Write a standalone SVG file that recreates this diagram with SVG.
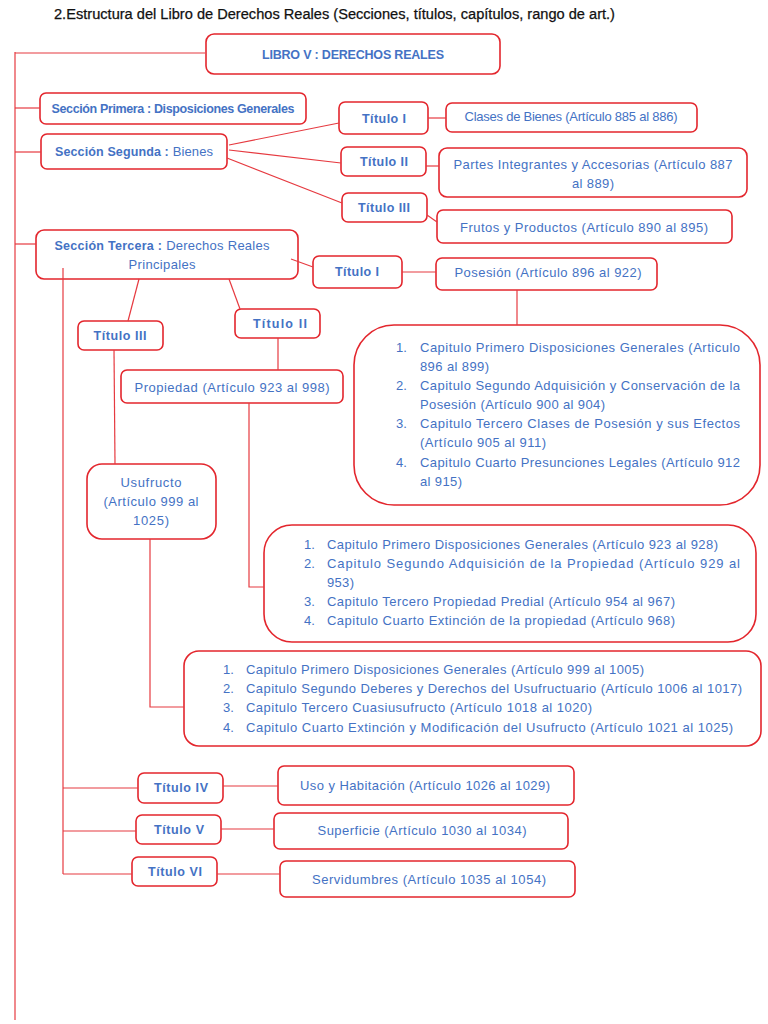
<svg xmlns="http://www.w3.org/2000/svg" width="768" height="1024" viewBox="0 0 768 1024">
<style>
.box{fill:#fff;stroke:#e3262d;stroke-width:1.6}
.c{fill:none;stroke:#e63a40;stroke-width:1.2}
.t{font-family:"Liberation Sans",Arial,sans-serif;font-size:13px;fill:#4472c4}
.m{text-anchor:middle}
.b{font-weight:bold;font-size:12.5px}
.h{font-family:"Liberation Sans",Arial,sans-serif;font-size:14px;fill:#111;stroke:#111;stroke-width:0.25}
</style>
<rect width="768" height="1024" fill="#fff"/>
<text class="h" x="54" y="19" textLength="561" lengthAdjust="spacingAndGlyphs">2.Estructura del Libro de Derechos Reales (Secciones, títulos, capítulos, rango de art.)</text>

<g id="libro"><rect class="box" x="206" y="34" width="294" height="40" rx="8"/><text class="t m b" x="353" y="59" textLength="182">LIBRO V : DERECHOS REALES</text></g>
<g id="seccion1"><rect class="box" x="40" y="93" width="266" height="31" rx="6"/><text class="t m b" x="173" y="113" textLength="243">Sección Primera : Disposiciones Generales</text></g>
<g id="seccion2"><rect class="box" x="41" y="134" width="186" height="35" rx="6"/><text class="t m" x="134" y="156" textLength="158"><tspan class="b">Sección Segunda :</tspan> Bienes</text></g>
<g id="titulo1-bienes"><rect class="box" x="339" y="102" width="89" height="32" rx="6"/><text class="t m b" x="384" y="123" textLength="44">Título I</text></g>
<g id="clases"><rect class="box" x="446" y="103" width="251" height="29" rx="6"/><text class="t m" x="571" y="121" textLength="213">Clases de Bienes (Artículo 885 al 886)</text></g>
<g id="titulo2-bienes"><rect class="box" x="341" y="147" width="85" height="29" rx="6"/><text class="t m b" x="384" y="166" textLength="48">Título II</text></g>
<g id="partes"><rect class="box" x="439" y="148" width="308" height="49" rx="8"/><text class="t m" x="593" y="169" textLength="279">Partes Integrantes y Accesorias (Artículo 887</text><text class="t m" x="593" y="188" textLength="42">al 889)</text></g>
<g id="titulo3-bienes"><rect class="box" x="342" y="193" width="85" height="29" rx="6"/><text class="t m b" x="384" y="212" textLength="52">Título III</text></g>
<g id="frutos"><rect class="box" x="437" y="210" width="295" height="33" rx="6"/><text class="t m" x="584" y="232" textLength="248">Frutos y Productos (Artículo 890 al 895)</text></g>
<g id="seccion3"><rect class="box" x="36" y="230" width="262" height="49" rx="8"/><text class="t m" x="162" y="250" textLength="215"><tspan class="b">Sección Tercera :</tspan> Derechos Reales</text><text class="t m" x="162" y="269" textLength="67">Principales</text></g>
<g id="titulo1-s3"><rect class="box" x="313" y="256" width="89" height="32" rx="6"/><text class="t m b" x="357" y="276" textLength="44">Título I</text></g>
<g id="posesion"><rect class="box" x="436" y="258" width="221" height="32" rx="6"/><text class="t m" x="548" y="277" textLength="187">Posesión (Artículo 896 al 922)</text></g>
<g id="posesion-capitulos"><rect class="box" x="354" y="325" width="406" height="180" rx="40"/>
<text class="t" x="396" y="352">1.</text><text class="t" x="420" y="352" textLength="320">Capitulo Primero Disposiciones Generales (Articulo</text>
<text class="t" x="420" y="371" textLength="69">896 al 899)</text>
<text class="t" x="396" y="390">2.</text><text class="t" x="420" y="390" textLength="320">Capitulo Segundo Adquisición y Conservación de la</text>
<text class="t" x="420" y="409" textLength="185">Posesión (Artículo 900 al 904)</text>
<text class="t" x="396" y="428">3.</text><text class="t" x="420" y="428" textLength="320">Capitulo Tercero Clases de Posesión y sus Efectos</text>
<text class="t" x="420" y="447" textLength="126">(Artículo 905 al 911)</text>
<text class="t" x="396" y="467">4.</text><text class="t" x="420" y="467" textLength="320">Capitulo Cuarto Presunciones Legales (Artículo 912</text>
<text class="t" x="420" y="486" textLength="42">al 915)</text></g>
<g id="titulo3-s3"><rect class="box" x="78" y="321" width="85" height="29" rx="6"/><text class="t m b" x="120" y="340" textLength="53">Título III</text></g>
<g id="titulo2-s3"><rect class="box" x="235" y="309" width="85" height="29" rx="6"/><text class="t m b" x="280" y="328" textLength="54">Título II</text></g>
<g id="propiedad"><rect class="box" x="121" y="370" width="222" height="33" rx="6"/><text class="t m" x="232" y="392" textLength="195">Propiedad (Artículo 923 al 998)</text></g>
<g id="usufructo"><rect class="box" x="87" y="464" width="129" height="75" rx="15"/><text class="t m" x="151" y="487" textLength="61">Usufructo</text><text class="t m" x="151" y="506" textLength="95">(Artículo 999 al</text><text class="t m" x="151" y="525" textLength="36">1025)</text></g>
<g id="propiedad-capitulos"><rect class="box" x="264" y="525" width="492" height="117" rx="28"/>
<text class="t" x="304" y="549">1.</text><text class="t" x="327" y="549" textLength="391">Capitulo Primero Disposiciones Generales (Artículo 923 al 928)</text>
<text class="t" x="304" y="568">2.</text><text class="t" x="327" y="568" textLength="413">Capitulo Segundo Adquisición de la Propiedad (Artículo 929 al</text>
<text class="t" x="327" y="587" textLength="27">953)</text>
<text class="t" x="304" y="606">3.</text><text class="t" x="327" y="606" textLength="348">Capitulo Tercero Propiedad Predial (Artículo 954 al 967)</text>
<text class="t" x="304" y="625">4.</text><text class="t" x="327" y="625" textLength="348">Capitulo Cuarto Extinción de la propiedad (Artículo 968)</text></g>
<g id="usufructo-capitulos"><rect class="box" x="184" y="651" width="577" height="95" rx="15"/>
<text class="t" x="223" y="674">1.</text><text class="t" x="246" y="674" textLength="398">Capitulo Primero Disposiciones Generales (Artículo 999 al 1005)</text>
<text class="t" x="223" y="693">2.</text><text class="t" x="246" y="693" textLength="496">Capitulo Segundo Deberes y Derechos del Usufructuario (Artículo 1006 al 1017)</text>
<text class="t" x="223" y="712">3.</text><text class="t" x="246" y="712" textLength="346">Capitulo Tercero Cuasiusufructo (Artículo 1018 al 1020)</text>
<text class="t" x="223" y="732">4.</text><text class="t" x="246" y="732" textLength="487">Capitulo Cuarto Extinción y Modificación del Usufructo (Artículo 1021 al 1025)</text></g>
<g id="titulo4"><rect class="box" x="138" y="773" width="85" height="30" rx="6"/><text class="t m b" x="181" y="792" textLength="54">Título IV</text></g>
<g id="uso"><rect class="box" x="278" y="766" width="296" height="39" rx="6"/><text class="t m" x="425" y="790" textLength="250">Uso y Habitación (Artículo 1026 al 1029)</text></g>
<g id="titulo5"><rect class="box" x="136" y="815" width="85" height="29" rx="6"/><text class="t m b" x="179" y="834" textLength="50">Título V</text></g>
<g id="superficie"><rect class="box" x="274" y="813" width="294" height="36" rx="6"/><text class="t m" x="422" y="835" textLength="209">Superficie (Artículo 1030 al 1034)</text></g>
<g id="titulo6"><rect class="box" x="132" y="857" width="85" height="29" rx="6"/><text class="t m b" x="175" y="876" textLength="54">Título VI</text></g>
<g id="servidumbres"><rect class="box" x="280" y="861" width="295" height="36" rx="6"/><text class="t m" x="429" y="884" textLength="234">Servidumbres (Artículo 1035 al 1054)</text></g>

<g id="connectors" class="c">
<path d="M15 52V1020"/>
<path d="M15 53H205"/>
<path d="M15 108H40"/>
<path d="M15 152H41"/>
<path d="M15 244H36"/>
<path d="M229 145L339 123"/>
<path d="M229 150L341 163"/>
<path d="M227 158L342 203"/>
<path d="M428 118H446"/>
<path d="M426 166H439"/>
<path d="M427 215L437 222"/>
<path d="M291 259L313 267"/>
<path d="M402 272H436"/>
<path d="M517 290V325"/>
<path d="M139 279L128 321"/>
<path d="M229 279L240 309"/>
<path d="M278 338V370"/>
<path d="M249 403V587H264"/>
<path d="M114 350L115 464"/>
<path d="M150 539V707H184"/>
<path d="M63 268V874"/>
<path d="M63 788H138"/>
<path d="M63 831H136"/>
<path d="M63 874H132"/>
<path d="M223 786H278"/>
<path d="M221 829H274"/>
<path d="M217 874H280"/>
</g>
</svg>
